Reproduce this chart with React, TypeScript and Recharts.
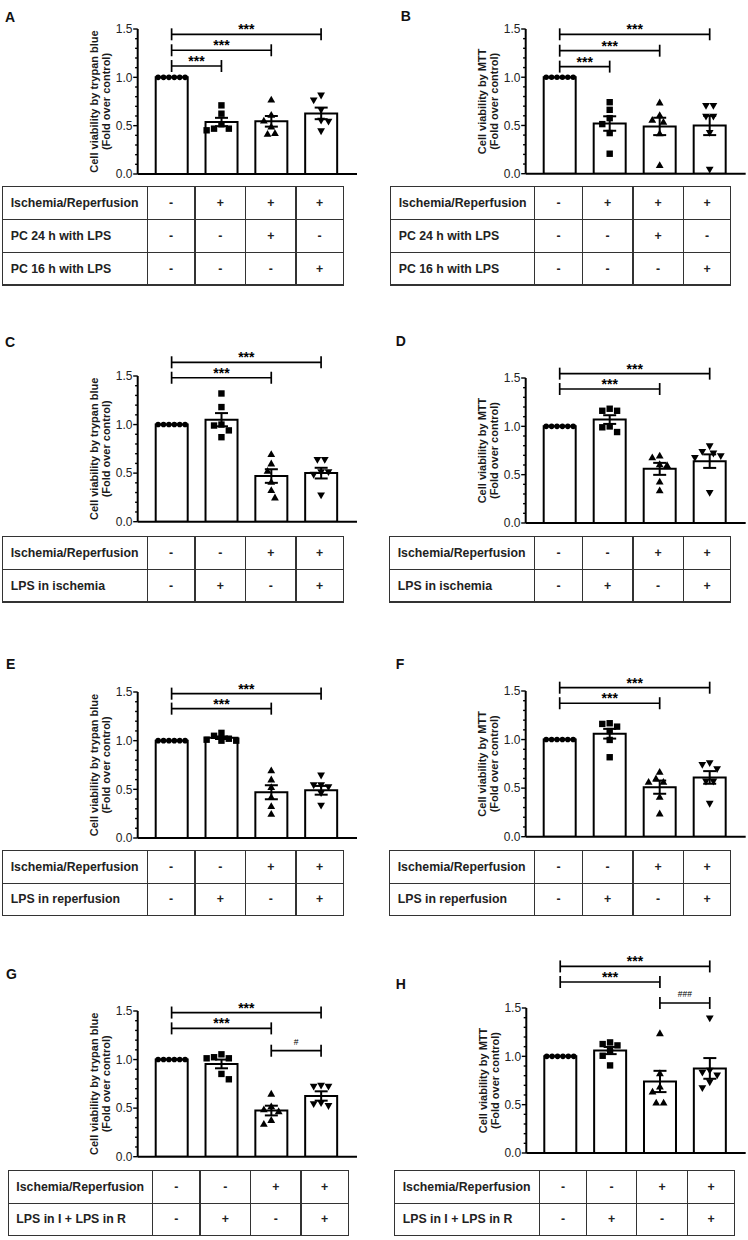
import React from 'react';
import { ComposedChart, Bar, ErrorBar, Scatter, XAxis, YAxis, ReferenceLine } from 'recharts';

const FONT = "'Liberation Sans', Arial, Helvetica, sans-serif";

// ---------- shared axis data ----------
const categories = ['c1', 'c2', 'c3', 'c4'];
const majorTicks = [0, 0.5, 1.0, 1.5];
const yTickLabels = ['0.0', '0.5', '1.0', '1.5'];
const allTicks = [0, 0.1, 0.2, 0.3, 0.4, 0.5, 0.6, 0.7, 0.8, 0.9, 1.0, 1.1, 1.2, 1.3, 1.4, 1.5];

const trypanLabel = ['Cell viability by trypan blue', '(Fold over control)'];
const mttLabel = ['Cell viability by MTT', '(Fold over control)'];

const controlPoints = [1, 1, 1, 1, 1, 1];

// ---------- Panel A ----------
const aMeans = [1.0, 0.538, 0.545, 0.627];
const aSems = [0, 0.043, 0.055, 0.06];
const aPoints = [
  controlPoints,
  [0.71, 0.624, 0.514, 0.469, 0.469, 0.452],
  [0.772, 0.614, 0.555, 0.493, 0.424, 0.418],
  [0.81, 0.76, 0.66, 0.55, 0.54, 0.44],
];
const aBrackets = [
  { from: 'c1', to: 'c4', y: 1.445, text: '***' },
  { from: 'c1', to: 'c3', y: 1.28, text: '***' },
  { from: 'c1', to: 'c2', y: 1.117, text: '***' },
];

// ---------- Panel B ----------
const bMeans = [1.0, 0.52, 0.49, 0.5];
const bSems = [0, 0.075, 0.09, 0.1];
const bPoints = [
  controlPoints,
  [0.741, 0.662, 0.576, 0.514, 0.421, 0.207],
  [0.74, 0.61, 0.56, 0.54, 0.42, 0.09],
  [0.7, 0.7, 0.59, 0.59, 0.42, 0.04],
];
const bBrackets = [
  { from: 'c1', to: 'c4', y: 1.445, text: '***' },
  { from: 'c1', to: 'c3', y: 1.275, text: '***' },
  { from: 'c1', to: 'c2', y: 1.11, text: '***' },
];

// ---------- Panel C ----------
const cMeans = [1.0, 1.05, 0.47, 0.5];
const cSems = [0, 0.068, 0.07, 0.055];
const cPoints = [
  controlPoints,
  [1.32, 1.18, 1.0, 0.99, 0.94, 0.87],
  [0.697, 0.601, 0.525, 0.412, 0.326, 0.251],
  [0.635, 0.635, 0.508, 0.508, 0.481, 0.268],
];
const cBrackets = [
  { from: 'c1', to: 'c4', y: 1.641, text: '***' },
  { from: 'c1', to: 'c3', y: 1.482, text: '***' },
];

// ---------- Panel D ----------
const dMeans = [1.0, 1.07, 0.56, 0.64];
const dSems = [0, 0.045, 0.062, 0.07];
const dPoints = [
  controlPoints,
  [1.182, 1.161, 1.161, 0.999, 0.99, 0.941],
  [0.7, 0.68, 0.61, 0.6, 0.43, 0.34],
  [0.792, 0.734, 0.717, 0.689, 0.672, 0.31],
];
const dBrackets = [
  { from: 'c1', to: 'c4', y: 1.545, text: '***' },
  { from: 'c1', to: 'c3', y: 1.386, text: '***' },
];

// ---------- Panel E ----------
const eMeans = [1.0, 1.03, 0.47, 0.49];
const eSems = [0, 0.013, 0.072, 0.045];
const ePoints = [
  controlPoints,
  [1.08, 1.05, 1.02, 1.01, 1.0, 1.0],
  [0.696, 0.603, 0.524, 0.421, 0.329, 0.25],
  [0.64, 0.54, 0.54, 0.52, 0.46, 0.33],
];
const eBrackets = [
  { from: 'c1', to: 'c4', y: 1.483, text: '***' },
  { from: 'c1', to: 'c3', y: 1.329, text: '***' },
];

// ---------- Panel F ----------
const fMeans = [1.0, 1.06, 0.51, 0.61];
const fSems = [0, 0.05, 0.068, 0.065];
const fPoints = [
  controlPoints,
  [1.168, 1.161, 1.133, 1.088, 0.996, 0.818],
  [0.67, 0.601, 0.567, 0.567, 0.412, 0.241],
  [0.756, 0.738, 0.694, 0.566, 0.566, 0.337],
];
const fBrackets = [
  { from: 'c1', to: 'c4', y: 1.534, text: '***' },
  { from: 'c1', to: 'c3', y: 1.374, text: '***' },
];

// ---------- Panel G ----------
const gMeans = [1.0, 0.955, 0.475, 0.625];
const gSems = [0, 0.045, 0.05, 0.048];
const gPoints = [
  controlPoints,
  [1.054, 1.024, 1.013, 1.013, 0.852, 0.797],
  [0.65, 0.52, 0.49, 0.47, 0.38, 0.34],
  [0.73, 0.72, 0.72, 0.55, 0.54, 0.52],
];
const gBrackets = [
  { from: 'c1', to: 'c4', y: 1.484, text: '***' },
  { from: 'c1', to: 'c3', y: 1.321, text: '***' },
  { from: 'c3', to: 'c4', y: 1.091, text: '#' },
];

// ---------- Panel H ----------
const hMeans = [1.0, 1.06, 0.74, 0.875];
const hSems = [0, 0.037, 0.11, 0.107];
const hPoints = [
  controlPoints,
  [1.144, 1.127, 1.113, 1.058, 1.006, 0.906],
  [1.241, 0.827, 0.689, 0.637, 0.523, 0.523],
  [1.39, 0.85, 0.83, 0.8, 0.73, 0.67],
];
const hBrackets = [
  { from: 'c1', to: 'c4', y: 1.93, text: '***' },
  { from: 'c1', to: 'c3', y: 1.769, text: '***' },
  { from: 'c3', to: 'c4', y: 1.552, text: '###' },
];

// ---------- Tables ----------
const pcRows = [
  ['Ischemia/Reperfusion', '-', '+', '+', '+'],
  ['PC 24 h with LPS', '-', '-', '+', '-'],
  ['PC 16 h with LPS', '-', '-', '-', '+'],
];
const ischemiaRows = [
  ['Ischemia/Reperfusion', '-', '-', '+', '+'],
  ['LPS in ischemia', '-', '+', '-', '+'],
];
const reperfusionRows = [
  ['Ischemia/Reperfusion', '-', '-', '+', '+'],
  ['LPS in reperfusion', '-', '+', '-', '+'],
];
const bothRows = [
  ['Ischemia/Reperfusion', '-', '-', '+', '+'],
  ['LPS in I + LPS in R', '-', '+', '-', '+'],
];

// ---------- layout ----------
const MARGIN_TOP = 62;
const XAXIS_H = 8;
const CAP = 0.062;

type Geo = { left: number; axisX: number; yTop: number; yBot: number; xEnd: number };

// beeswarm-like horizontal spreading of points (derived from values)
function swarm(vals: number[], d: number, ppu: number): number[] {
  const n = vals.length;
  const out = new Array(n).fill(0);
  const allSame = vals.every((v) => Math.abs(v - vals[0]) < 1e-9);
  if (allSame) return vals.map((_, i) => (i - (n - 1) / 2) * d);
  const order = vals.map((_, i) => i).sort((a, b) => vals[b] - vals[a]);
  const placed: { x: number; y: number; i: number }[] = [];
  const fits = (x: number, y: number) =>
    placed.every((p) => Math.hypot(p.x - x, p.y - y) >= d - 1e-6);
  for (const i of order) {
    const y = vals[i] * ppu;
    let chosen = 0;
    let found = false;
    for (let k = 0; k < 60 && !found; k++) {
      const l = placed.filter((p) => p.x < 0).length;
      const r = placed.filter((p) => p.x > 0).length;
      const cands = k === 0 ? [0] : r < l ? [(k * d) / 2, (-k * d) / 2] : [(-k * d) / 2, (k * d) / 2];
      for (const c of cands) {
        if (fits(c, y)) {
          chosen = c;
          found = true;
          break;
        }
      }
    }
    placed.push({ x: chosen, y, i });
    out[i] = chosen;
  }
  const groups = new Map<string, number[]>();
  vals.forEach((v, i) => {
    const key = v.toFixed(3);
    groups.set(key, [...(groups.get(key) || []), i]);
  });
  groups.forEach((idx) => {
    if (idx.length < 2) return;
    const m = idx.reduce((s, i) => s + out[i], 0) / idx.length;
    if (Math.abs(m) < 1e-6) return;
    const trial = idx.map((i) => out[i] - m);
    const ok = idx.every((i, t) =>
      placed.every((p) => idx.includes(p.i) || Math.hypot(p.x - trial[t], p.y - vals[i] * ppu) >= d - 1e-6)
    );
    if (ok) {
      idx.forEach((i, t) => {
        out[i] = trial[t];
        const p = placed.find((pp) => pp.i === i);
        if (p) p.x = trial[t];
      });
    }
  });
  return out;
}

function buildRows(means: number[], sems: number[], points: number[][], ppu: number) {
  return categories.map((c, ci) => {
    const offs = swarm(points[ci], ci === 0 ? 5.4 : 7.4, ppu);
    const row: any = { cat: c, mean: means[ci], sem: sems[ci] };
    points[ci].forEach((v, j) => {
      row['p' + j] = v;
      row['dx' + j] = offs[j];
    });
    return row;
  });
}

function Marker({ cx, cy, kind }: { cx: number; cy: number; kind: number }) {
  const s = '#000';
  if (kind === 0) return <circle cx={cx} cy={cy} r={2.8} fill={s} />;
  if (kind === 1) return <rect x={cx - 3.2} y={cy - 3.2} width={6.4} height={6.4} fill={s} />;
  if (kind === 2)
    return <polygon points={`${cx},${cy - 3.7} ${cx + 3.9},${cy + 3.1} ${cx - 3.9},${cy + 3.1}`} fill={s} />;
  return <polygon points={`${cx},${cy + 3.7} ${cx + 3.9},${cy - 3.1} ${cx - 3.9},${cy - 3.1}`} fill={s} />;
}

const makeShape = (j: number) => (props: any) => {
  const { cx, cy, payload } = props;
  if (cx == null || cy == null || !payload) return <g />;
  const kind = categories.indexOf(payload.cat);
  return <Marker cx={cx + (payload['dx' + j] || 0)} cy={cy} kind={kind} />;
};

const YTick = (props: any) => {
  const { x, y, payload } = props;
  const v = payload.value;
  const mi = majorTicks.findIndex((m) => Math.abs(m - v) < 1e-6);
  const major = mi >= 0;
  return (
    <g>
      <line x1={x - (major ? 4.5 : 2.6)} x2={x} y1={y} y2={y} stroke="#000" strokeWidth={1.4} />
      {major && (
        <text x={x - 5.2} y={y} dy="0.36em" textAnchor="end" fontSize={12} fill="#222" fontFamily={FONT}>
          {yTickLabels[mi]}
        </text>
      )}
    </g>
  );
};

const YLabel = (props: any) => {
  const { viewBox, lines } = props;
  if (!viewBox) return null;
  const ax = viewBox.x + viewBox.width;
  const cy = viewBox.y + viewBox.height / 2;
  return (
    <g>
      {lines.map((t: string, i: number) => {
        const lx = ax - 43.7 + i * 12.2;
        return (
          <text
            key={i}
            x={lx}
            y={cy}
            transform={`rotate(-90 ${lx} ${cy})`}
            textAnchor="middle"
            dominantBaseline="central"
            fontSize={11}
            fontWeight="bold"
            fill="#1a1a1a"
            fontFamily={FONT}
          >
            {t}
          </text>
        );
      })}
    </g>
  );
};

const BracketLabel = (props: any) => {
  const { viewBox, text, size, lift, bold } = props;
  if (!viewBox) return null;
  const x = viewBox.x + viewBox.width / 2;
  const y = viewBox.y - lift;
  return (
    <text x={x} y={y} textAnchor="middle" fontSize={size} fontWeight={bold ? 'bold' : 'normal'} fill="#000" fontFamily={FONT}>
      {text}
    </text>
  );
};

function renderBrackets(brackets: { from: string; to: string; y: number; text: string }[]) {
  const sw = 1.7;
  return brackets.flatMap((b, i) => {
    const isHash = b.text.startsWith('#');
    return [
      <ReferenceLine
        key={`h${i}`}
        segment={[
          { x: b.from, y: b.y },
          { x: b.to, y: b.y },
        ]}
        stroke="#000"
        strokeWidth={sw}
        ifOverflow="visible"
        label={<BracketLabel text={b.text} size={isHash ? 8.5 : 14} lift={isHash ? 6 : 0} bold={!isHash} />}
      />,
      <ReferenceLine
        key={`l${i}`}
        segment={[
          { x: b.from, y: b.y - CAP },
          { x: b.from, y: b.y + CAP },
        ]}
        stroke="#000"
        strokeWidth={sw}
        ifOverflow="visible"
      />,
      <ReferenceLine
        key={`r${i}`}
        segment={[
          { x: b.to, y: b.y - CAP },
          { x: b.to, y: b.y + CAP },
        ]}
        stroke="#000"
        strokeWidth={sw}
        ifOverflow="visible"
      />,
    ];
  });
}

function Panel(props: {
  geo: Geo;
  means: number[];
  sems: number[];
  points: number[][];
  brackets: { from: string; to: string; y: number; text: string }[];
  yLabel: string[];
}) {
  const { geo, means, sems, points, brackets, yLabel } = props;
  const plotH = geo.yBot - geo.yTop;
  const ppu = plotH / 1.5;
  const rows = buildRows(means, sems, points, ppu);
  const width = geo.xEnd - geo.left;
  const height = MARGIN_TOP + plotH + XAXIS_H;
  return (
    <div style={{ position: 'absolute', left: geo.left, top: geo.yTop - MARGIN_TOP, width, height }}>
      <ComposedChart width={width} height={height} data={rows} margin={{ top: MARGIN_TOP, right: 0, bottom: 0, left: 0 }}>
        <XAxis
          dataKey="cat"
          type="category"
          padding={{ left: 9, right: 11 }}
          tick={false}
          tickLine={{ stroke: '#000', strokeWidth: 2 }}
          tickSize={5}
          axisLine={{ stroke: '#000', strokeWidth: 2 }}
          height={XAXIS_H}
        />
        <YAxis
          type="number"
          domain={[0, 1.5]}
          allowDataOverflow
          ticks={allTicks}
          interval={0}
          tick={<YTick />}
          tickLine={false}
          tickSize={0}
          tickMargin={0}
          axisLine={{ stroke: '#000', strokeWidth: 2 }}
          width={geo.axisX - geo.left}
          label={<YLabel lines={yLabel} />}
        />
        <Bar dataKey="mean" barSize={32} fill="#fff" stroke="#000" strokeWidth={2} isAnimationActive={false}>
          <ErrorBar dataKey="sem" width={6.5} stroke="#000" strokeWidth={2} direction="y" />
        </Bar>
        {[0, 1, 2, 3, 4, 5].map((j) => (
          <Scatter key={j} dataKey={`p${j}`} isAnimationActive={false} shape={makeShape(j)} />
        ))}
        {renderBrackets(brackets)}
      </ComposedChart>
    </div>
  );
}

function Table(props: { edges: number[]; top: number; rowH: number; rows: string[][] }) {
  const { edges, top, rowH, rows } = props;
  const left = edges[0];
  const right = edges[edges.length - 1];
  const w = right - left;
  const h = rowH * rows.length;
  const lw = 1.2;
  const col = '#333';
  const hLines = rows.map((_, r) => r).concat([rows.length]);
  return (
    <div style={{ position: 'absolute', left, top, width: w, height: h }}>
      {edges.map((e, i) => (
        <div
          key={'v' + i}
          style={{ position: 'absolute', left: e - left - lw / 2, top: -lw / 2, width: lw, height: h + lw, background: col }}
        />
      ))}
      {hLines.map((r) => (
        <div
          key={'h' + r}
          style={{ position: 'absolute', left: -lw / 2, top: r * rowH - lw / 2, width: w + lw, height: lw, background: col }}
        />
      ))}
      {rows.map((row, r) =>
        row.map((txt, c) => (
          <div
            key={r + '-' + c}
            style={{
              position: 'absolute',
              left: edges[c] - left,
              top: r * rowH,
              width: edges[c + 1] - edges[c],
              height: rowH,
              display: 'flex',
              alignItems: 'center',
              justifyContent: c === 0 ? 'flex-start' : 'center',
              paddingLeft: c === 0 ? 8 : 0,
              boxSizing: 'border-box',
              fontFamily: FONT,
              fontWeight: 'bold',
              fontSize: 12.3,
              color: '#222',
              whiteSpace: 'nowrap',
            }}
          >
            {txt}
          </div>
        ))
      )}
    </div>
  );
}

const leftEdges = [2.7, 147.3, 195, 245.7, 296, 343.3];
const rightEdges = [389.7, 534.7, 582.3, 633, 683.3, 730.7];

const panelLetters = [
  { t: 'A', x: 5, y: 21.7 },
  { t: 'B', x: 400.7, y: 20.7 },
  { t: 'C', x: 5, y: 346.7 },
  { t: 'D', x: 395.7, y: 345.7 },
  { t: 'E', x: 6, y: 669 },
  { t: 'F', x: 395.7, y: 669 },
  { t: 'G', x: 6, y: 979.3 },
  { t: 'H', x: 395.7, y: 989 },
];

export default function App() {
  return (
    <div style={{ position: 'absolute', left: 0, top: 0, width: 748, height: 1240, background: '#fff', overflow: 'hidden' }}>
      <Panel geo={{ left: 0, axisX: 137.7, yTop: 28.7, yBot: 173.7, xEnd: 357 }} means={aMeans} sems={aSems} points={aPoints} brackets={aBrackets} yLabel={trypanLabel} />
      <Panel geo={{ left: 374, axisX: 525.7, yTop: 29.3, yBot: 174, xEnd: 745.7 }} means={bMeans} sems={bSems} points={bPoints} brackets={bBrackets} yLabel={mttLabel} />
      <Panel geo={{ left: 0, axisX: 137.7, yTop: 376, yBot: 521.7, xEnd: 357 }} means={cMeans} sems={cSems} points={cPoints} brackets={cBrackets} yLabel={trypanLabel} />
      <Panel geo={{ left: 374, axisX: 525.7, yTop: 378.3, yBot: 523.3, xEnd: 745.7 }} means={dMeans} sems={dSems} points={dPoints} brackets={dBrackets} yLabel={mttLabel} />
      <Panel geo={{ left: 0, axisX: 137.7, yTop: 691.7, yBot: 837.7, xEnd: 357 }} means={eMeans} sems={eSems} points={ePoints} brackets={eBrackets} yLabel={trypanLabel} />
      <Panel geo={{ left: 374, axisX: 525.7, yTop: 691, yBot: 836.7, xEnd: 745.7 }} means={fMeans} sems={fSems} points={fPoints} brackets={fBrackets} yLabel={mttLabel} />
      <Panel geo={{ left: 0, axisX: 137.7, yTop: 1011, yBot: 1156.7, xEnd: 357 }} means={gMeans} sems={gSems} points={gPoints} brackets={gBrackets} yLabel={trypanLabel} />
      <Panel geo={{ left: 374, axisX: 526.3, yTop: 1008.3, yBot: 1153.3, xEnd: 745.7 }} means={hMeans} sems={hSems} points={hPoints} brackets={hBrackets} yLabel={mttLabel} />

      <Table edges={leftEdges} top={186.7} rowH={32.8} rows={pcRows} />
      <Table edges={[390.7, 534.7, 582.3, 633, 683.3, 730.7]} top={186.7} rowH={32.8} rows={pcRows} />
      <Table edges={leftEdges} top={536.7} rowH={32.7} rows={ischemiaRows} />
      <Table edges={rightEdges} top={536.7} rowH={32.7} rows={ischemiaRows} />
      <Table edges={leftEdges} top={850.7} rowH={32.5} rows={reperfusionRows} />
      <Table edges={rightEdges} top={850.7} rowH={32.5} rows={reperfusionRows} />
      <Table edges={[8.3, 152.7, 200, 250.7, 301, 348.3]} top={1170.7} rowH={32.5} rows={bothRows} />
      <Table edges={[394.7, 539.7, 586.3, 636.7, 687.3, 734.7]} top={1170.7} rowH={32.5} rows={bothRows} />

      <svg width={748} height={1240} style={{ position: 'absolute', left: 0, top: 0, pointerEvents: 'none' }}>
        {panelLetters.map((p) => (
          <text key={p.t} x={p.x} y={p.y} fontSize={14} fontWeight="bold" fill="#111" fontFamily={FONT}>
            {p.t}
          </text>
        ))}
      </svg>
    </div>
  );
}
